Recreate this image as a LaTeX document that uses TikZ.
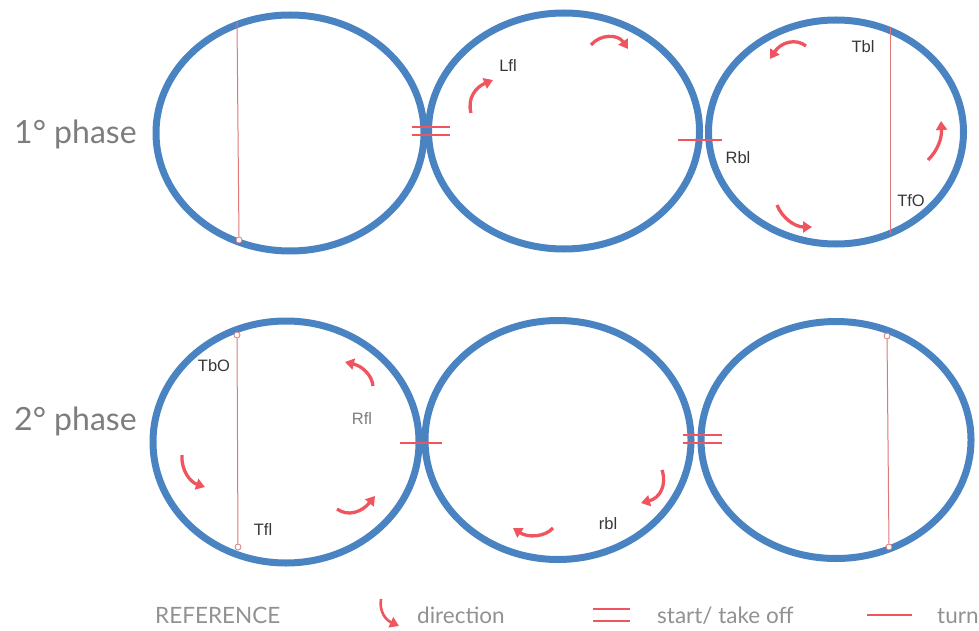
\documentclass[tikz,border=0pt]{standalone}
\usepackage{fontspec}
\setmainfont{Lato}
\newfontfamily\labelfont{Liberation Sans}
\usetikzlibrary{shapes.geometric,arrows.meta}
\definecolor{ringblue}{RGB}{74,131,193}
\definecolor{markred}{RGB}{240,85,95}
\definecolor{chordred}{RGB}{222,120,120}
\definecolor{phasegray}{RGB}{125,125,125}
\definecolor{labelgray}{RGB}{55,55,55}

\begin{document}
\begin{tikzpicture}[x=1pt, y=-1pt,
    ring/.style={ellipse, draw=ringblue, line width=7pt, inner sep=0pt},
    chord/.style={chordred, line width=1pt},
    endpt/.style={circle, draw=chordred, fill=white, line width=0.8pt, inner sep=0pt, minimum size=6pt},
    turnarrow/.style={markred, line width=3.3pt, -{Triangle[length=9pt,width=11pt]}},
    takeoff/.style={markred, line width=2.2pt},
    turnbar/.style={markred, line width=2.4pt},
    tag/.style={font=\labelfont\fontsize{16.5}{18}\selectfont, text=labelgray, inner sep=0pt},
    phase/.style={font=\fontsize{32}{36}\selectfont, text=phasegray, anchor=base west, inner sep=0pt},
    legend/.style={font=\fontsize{22.5}{26}\selectfont, text=phasegray!85, anchor=base west, inner sep=0pt}]

    \useasboundingbox (0,0) rectangle (979,631);

    % 1st phase
    \node[phase] (p1) at (14,144) {1° phase};
    \node[ring, minimum width=268pt, minimum height=236pt] (c1) at (290,133) {};
    \node[ring, minimum width=271pt, minimum height=236pt] (c2) at (564,131) {};
    \node[ring, minimum width=255pt, minimum height=224pt] (c3) at (836,132) {};

    % 2nd phase
    \node[phase] (p2) at (14,430) {2° phase};
    \node[ring, minimum width=266pt, minimum height=242pt] (c4) at (286,442) {};
    \node[ring, minimum width=266pt, minimum height=239pt] (c5) at (558,440) {};
    \node[ring, minimum width=270pt, minimum height=237pt] (c6) at (836,440) {};

    % chords
    \coordinate (t1) at (237,22);
    \node[endpt] (b1) at (239,240) {};
    \draw[chord] (t1) -- (b1);
    \coordinate (t3) at (890,28);
    \coordinate (b3) at (890,234);
    \draw[chord] (t3) -- (b3);
    \node[endpt] (t4) at (237,335) {};
    \node[endpt] (b4) at (238,547) {};
    \draw[chord] (t4) -- (b4);
    \node[endpt] (t6) at (887,336) {};
    \node[endpt] (b6) at (889,547) {};
    \draw[chord] (t6) -- (b6);

    % start / turn marks
    \draw[takeoff] (412,127) -- (450,127);
    \draw[takeoff] (412,135) -- (450,135);
    \draw[turnbar] (678,140) -- (722,140);
    \draw[turnbar] (400,443) -- (442,443);
    \draw[takeoff] (683,435) -- (722,435);
    \draw[takeoff] (683,443) -- (722,443);

    % directions
    \draw[turnarrow] (471,113) .. controls (467,98) and (476,87) .. (493,80);
    \draw[turnarrow] (591,45) .. controls (600,34) and (618,34) .. (628,49);
    \draw[turnarrow] (806,46) .. controls (796,38) and (781,42) .. (770,59);
    \draw[turnarrow] (928,160) .. controls (938,150) and (942,138) .. (941,121);
    \draw[turnarrow] (777,205) .. controls (782,218) and (795,227) .. (812,227);
    \draw[turnarrow] (373,386) .. controls (372,375) and (362,366) .. (345,362);
    \draw[turnarrow] (182,455) .. controls (181,470) and (190,482) .. (205,487);
    \draw[turnarrow] (337,509) .. controls (348,517) and (362,512) .. (375,496);
    \draw[turnarrow] (662,470) .. controls (667,485) and (660,498) .. (641,503);
    \draw[turnarrow] (553,528) .. controls (545,537) and (528,538) .. (513,528);

    % labels
    \node[tag] (lfl) at (508,66) {Lfl};
    \node[tag] (tbl) at (863,47) {Tbl};
    \node[tag] (rbl) at (738,158) {Rbl};
    \node[tag] (tfo) at (911,201) {TfO};
    \node[tag] (tbo) at (214,366) {TbO};
    \node[tag, text=phasegray] (rfl) at (362,419) {Rfl};
    \node[tag] (tfl) at (263,530) {Tfl};
    \node[tag] (rbl2) at (608,524) {rbl};

    % reference
    \node[legend] (ref) at (155,623) {REFERENCE};
    \draw[turnarrow, line width=2.6pt] (381,599) .. controls (379,612) and (386,620) .. (399,626);
    \node[legend] (dir) at (417,623) {direction};
    \draw[takeoff] (593,609) -- (630,609);
    \draw[takeoff] (593,621) -- (630,621);
    \node[legend] (start) at (657,623) {start/ take off};
    \draw[turnbar] (867,615) -- (912,615);
    \node[legend] (turn) at (937,623) {turn};
\end{tikzpicture}
\end{document}
